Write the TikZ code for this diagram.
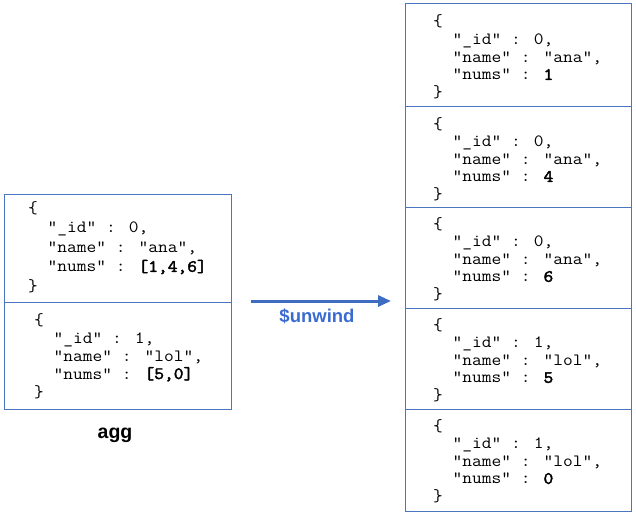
\documentclass[tikz,border=0pt]{standalone}
\usepackage{fontspec}
\setmainfont{Liberation Sans}
\newfontfamily\codefont[FakeStretch=1.1, BoldFont={Latin Modern Mono}, BoldFeatures={FakeBold=2.5}]{Latin Modern Mono}
\usetikzlibrary{arrows.meta}
\definecolor{boxblue}{HTML}{4A76C0}
\definecolor{arrblue}{HTML}{3D6CC0}
\definecolor{lblblue}{HTML}{3A6BD0}
\newcommand{\ind}{\hspace*{19.4pt}}
\newcommand{\docL}[4]{\parbox[t]{200pt}{\raggedright\codefont\fontsize{17.2}{#1}\selectfont
\{\\
\ind"\_id" : #2,\\
\ind"name" : "#3",\\
\ind"nums" : \textbf{#4}\\
\}}}
\begin{document}
\begin{tikzpicture}[x=1pt,y=-1pt,
  docbox/.style={draw=boxblue, line width=1pt},
  doctext/.style={inner sep=0pt, anchor=base west},
  flow/.style={draw=arrblue, line width=3pt, -{Triangle[length=13pt,width=11pt]}},
  lbl/.style={font=\bfseries\fontsize{18.5}{20}\selectfont, text=lblblue, anchor=base, inner sep=0pt},
  captext/.style={font=\bfseries\fontsize{19.5}{22}\selectfont, anchor=base, inner sep=0pt}]
\useasboundingbox (0,0) rectangle (636,516);
% left collection
\draw[docbox] (4,194) rectangle (231,302);
\draw[docbox] (4,302) rectangle (231,409);
\node[doctext] (l1) at (28,213) {\docL{19.6}{0}{ana}{[1,4,6]}};
\node[doctext] (l2) at (34,325) {\docL{18}{1}{lol}{[5,0]}};
\node[captext] (agg) at (115,438) {agg};
% right collection
\draw[docbox] (405,4) rectangle (631,106);
\draw[docbox] (405,106) rectangle (631,207);
\draw[docbox] (405,207) rectangle (631,308);
\draw[docbox] (405,308) rectangle (631,409);
\draw[docbox] (405,409) rectangle (631,511);
\node[doctext] (r1) at (433,27) {\docL{17.6}{0}{ana}{1}};
\node[doctext] (r2) at (433,129) {\docL{17.6}{0}{ana}{4}};
\node[doctext] (r3) at (433,229) {\docL{17.6}{0}{ana}{6}};
\node[doctext] (r4) at (433,330) {\docL{17.6}{1}{lol}{5}};
\node[doctext] (r5) at (433,431) {\docL{17.6}{1}{lol}{0}};
% arrow
\coordinate (a) at (251,301);
\coordinate (b) at (391,301);
\draw[flow] (a) -- (b);
\node[lbl] (unw) at (317,322) {\$unwind};
\end{tikzpicture}
\end{document}
